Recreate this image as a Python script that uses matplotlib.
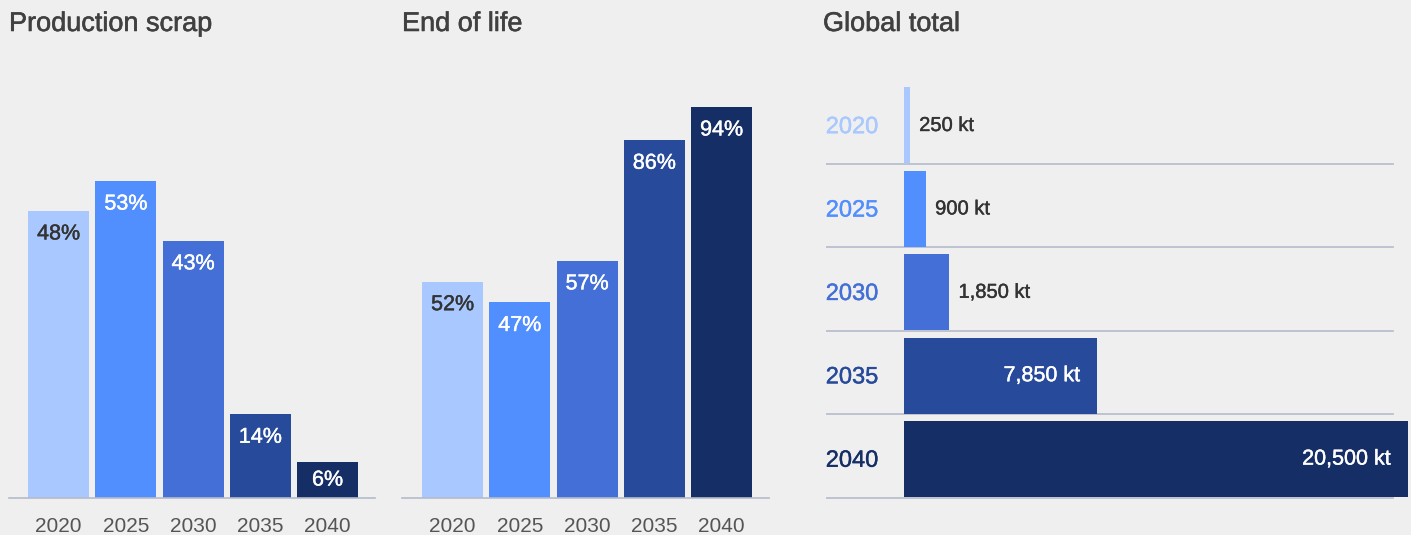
import matplotlib.pyplot as plt
import matplotlib.patheffects as pe

years = ["2020", "2025", "2030", "2035", "2040"]
production_scrap = [48, 53, 43, 14, 6]
end_of_life = [52, 47, 57, 86, 94]
global_total_kt = [250, 900, 1850, 7850, 20500]
global_labels = ["250 kt", "900 kt", "1,850 kt", "7,850 kt", "20,500 kt"]

colors = ["#a9c8ff", "#528ffe", "#436fd6", "#274a9b", "#162e66"]
bg = "#efefef"
line_col = "#b3bbcc"
dark = "#333333"

plt.rcParams["font.family"] = ["Liberation Sans", "DejaVu Sans"]

W, H = 1411, 535
fig = plt.figure(figsize=(W / 100, H / 100), dpi=100, facecolor=bg)


def medium(color, w=0.3):
    # fake a medium weight with a thin outline in the text colour
    return [pe.withStroke(linewidth=w, foreground=color)]


def px_axes(x0, x1, y_top, y_bot):
    return fig.add_axes([x0 / W, 1 - y_bot / H, (x1 - x0) / W, (y_bot - y_top) / H])


def vertical_panel(x0, x1, values, px_per_unit, title, first_center):
    ax = px_axes(x0, x1, 60, 498)
    ax.set_facecolor(bg)
    pitch = 67.25
    ax.set_xlim((x0 - first_center) / pitch, (x1 - first_center) / pitch)
    ax.set_ylim(0, 438 / px_per_unit)
    pos = list(range(len(values)))
    ax.bar(pos, values, width=61 / pitch, color=colors)
    for i, v in enumerate(values):
        h_px = v * px_per_unit
        off = min(23, h_px / 2)
        col = dark if i == 0 else "white"
        ax.annotate(f"{v}%", (i, v), xytext=(0, -off), textcoords="offset pixels",
                    ha="center", va="center", fontsize=15.5, color=col,
                    path_effects=medium(col))
    for s in ["top", "right", "left"]:
        ax.spines[s].set_visible(False)
    ax.spines["bottom"].set_color(line_col)
    ax.spines["bottom"].set_linewidth(1.2)
    ax.set_yticks([])
    ax.set_xticks(pos, years)
    ax.tick_params(axis="x", length=0, pad=14, labelsize=15, labelcolor="#555555")
    fig.text(x0 / W, 1 - 24 / H, title, fontsize=19.5, color="#404040",
             va="center", ha="left", path_effects=medium("#404040", 0.4))
    return ax


vertical_panel(9, 375, production_scrap, 5.98, "Production scrap", 58.5)
vertical_panel(402, 769, end_of_life, 4.16, "End of life", 452.5)

# Global total, horizontal bars
ax3 = px_axes(826, 1411, 80, 500)
ax3.set_facecolor(bg)
scale = 504 / 20500
ax3.set_xlim(-(904 - 826) / scale, (1411 - 904) / scale)
pitch = 83.4
ax3.set_ylim((500 - 125.5) / pitch, (80 - 125.5) / pitch)
rows = list(range(len(global_total_kt)))
ax3.barh(rows, global_total_kt, height=76 / pitch, color=colors)
for i, (v, lab) in enumerate(zip(global_total_kt, global_labels)):
    ax3.axhline(i + 38.5 / pitch, xmin=0, xmax=(1393 - 826) / (1411 - 826),
                color=line_col, lw=1.2, zorder=0)
    ax3.text(-(904 - 852) / scale, i + 0.02, years[i], ha="center", va="center",
             fontsize=17, color=colors[i], path_effects=medium(colors[i]))
    if v < 5000:
        ax3.annotate(lab, (v, i), xytext=(9, 0), textcoords="offset pixels",
                     ha="left", va="center", fontsize=14.5, color=dark,
                     path_effects=medium(dark))
    else:
        ax3.annotate(lab, (v, i), xytext=(-17, 0), textcoords="offset pixels",
                     ha="right", va="center", fontsize=15.5, color="white",
                     path_effects=medium("white"))
ax3.axis("off")
fig.text(823 / W, 1 - 24 / H, "Global total", fontsize=19.5, color="#404040",
         va="center", ha="left", path_effects=medium("#404040", 0.4))

fig.savefig("out.png", dpi=100, facecolor=bg)
